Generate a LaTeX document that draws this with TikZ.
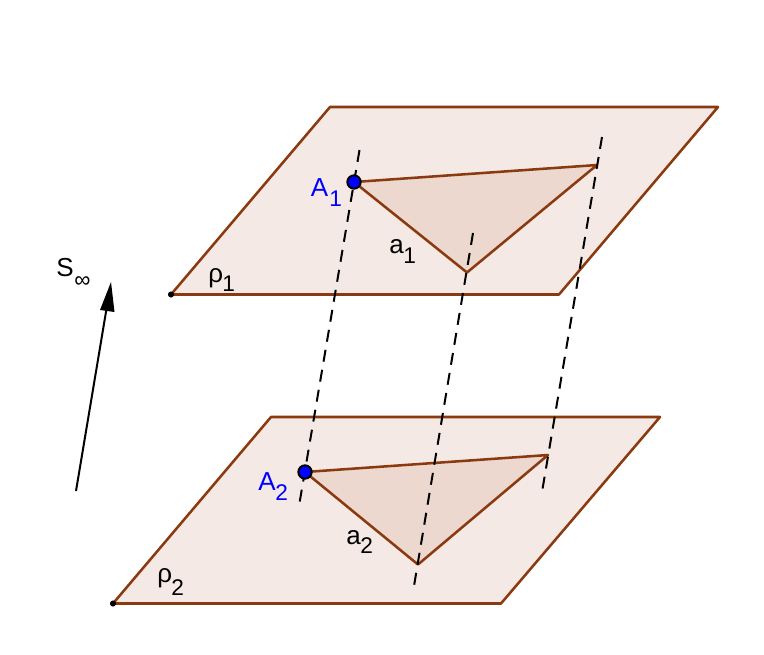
\documentclass[tikz,border=0pt]{standalone}
\usepackage{fontspec}
\usetikzlibrary{calc}
\setmainfont{Liberation Sans}
\definecolor{edgebrown}{HTML}{8B3A0F}
\definecolor{planefill}{HTML}{F5E9E5}
\definecolor{trifill}{HTML}{ECD8CF}
\definecolor{ptblue}{HTML}{0000FF}
\tikzset{
  planeedge/.style={draw=edgebrown,line width=1.9pt,line join=round,fill=planefill},
  triedge/.style={draw=edgebrown,line width=1.9pt,line join=round,fill=trifill},
  projline/.style={draw=black,line width=1.5pt,dash pattern=on 9pt off 6.2pt},
  cornerdot/.style={circle,fill=black,inner sep=0pt,minimum size=4.6pt},
  bluept/.style={circle,draw=black,fill=ptblue,line width=1.5pt,inner sep=0pt,minimum size=10pt},
  lab/.style={inner sep=0pt,font=\fontsize{19.5pt}{21pt}\selectfont,anchor=base west},
  sub/.style={inner sep=0pt,font=\fontsize{17pt}{19pt}\selectfont,anchor=base west},
  dirarrow/.style={line width=1.5pt,black},
}
\begin{document}
\begin{tikzpicture}[x=0.75pt,y=-0.75pt]
\useasboundingbox (0,0) rectangle (764,654);
% upper plane
\coordinate (P1a) at (171,294.5);
\coordinate (P1b) at (330,107);
\coordinate (P1c) at (718,107);
\coordinate (P1d) at (559,294.5);
\path[planeedge] (P1a) -- (P1b) -- (P1c) -- (P1d) -- cycle;
% lower plane
\coordinate (P2a) at (113,603.5);
\coordinate (P2b) at (271,417);
\coordinate (P2c) at (660,417);
\coordinate (P2d) at (501,603.5);
\path[planeedge] (P2a) -- (P2b) -- (P2c) -- (P2d) -- cycle;
% triangles
\coordinate (A1) at (354,182);
\coordinate (B1) at (467,272.5);
\coordinate (C1) at (597,165);
\coordinate (A2) at (305,472);
\coordinate (B2) at (418,564.5);
\coordinate (C2) at (548,455);
\path[triedge] (A1) -- (B1) -- (C1) -- cycle;
\path[triedge] (A2) -- (B2) -- (C2) -- cycle;
% projection lines
\coordinate (L1s) at (359.5,150);
\coordinate (L1e) at (299.5,503);
\coordinate (L2s) at (473,233);
\coordinate (L2e) at (414,586);
\coordinate (L3s) at (602,137);
\coordinate (L3e) at (542,492);
\draw[projline] (L1s) -- (L1e);
\draw[projline] (L2s) -- (L2e);
\draw[projline] (L3s) -- (L3e);
% points
\node[bluept] (PA1) at (A1) {};
\node[bluept] (PA2) at (A2) {};
\node[cornerdot] (D1) at (P1a) {};
\node[cornerdot] (D2) at (P2a) {};
% arrow
\coordinate (S0) at (76,491);
\coordinate (S1) at (111,282);
\draw[dirarrow] (S0) -- ($(S0)!0.92!(S1)$);
\fill[black] (S1) -- (114.5,312) -- (100,310) -- cycle;
% labels
\node[lab,text=ptblue] (tA1) at (310.5,196) {A};
\node[sub,text=ptblue] (tA1s) at (329,206) {1};
\node[lab,text=ptblue] (tA2) at (258,490) {A};
\node[sub,text=ptblue] (tA2s) at (275,500) {2};
\node[lab] (ta1) at (389,253) {a};
\node[sub] (ta1s) at (403,263) {1};
\node[lab] (ta2) at (346,544) {a};
\node[sub] (ta2s) at (360,553) {2};
\node[lab] (tr1) at (208,282) {ρ};
\node[sub] (tr1s) at (222,291) {1};
\node[lab] (tr2) at (157,582) {ρ};
\node[sub] (tr2s) at (171,595) {2};
\node[lab] (tS) at (56,276) {S};
\node[sub] (tSs) at (74,287) {∞};
\end{tikzpicture}
\end{document}
